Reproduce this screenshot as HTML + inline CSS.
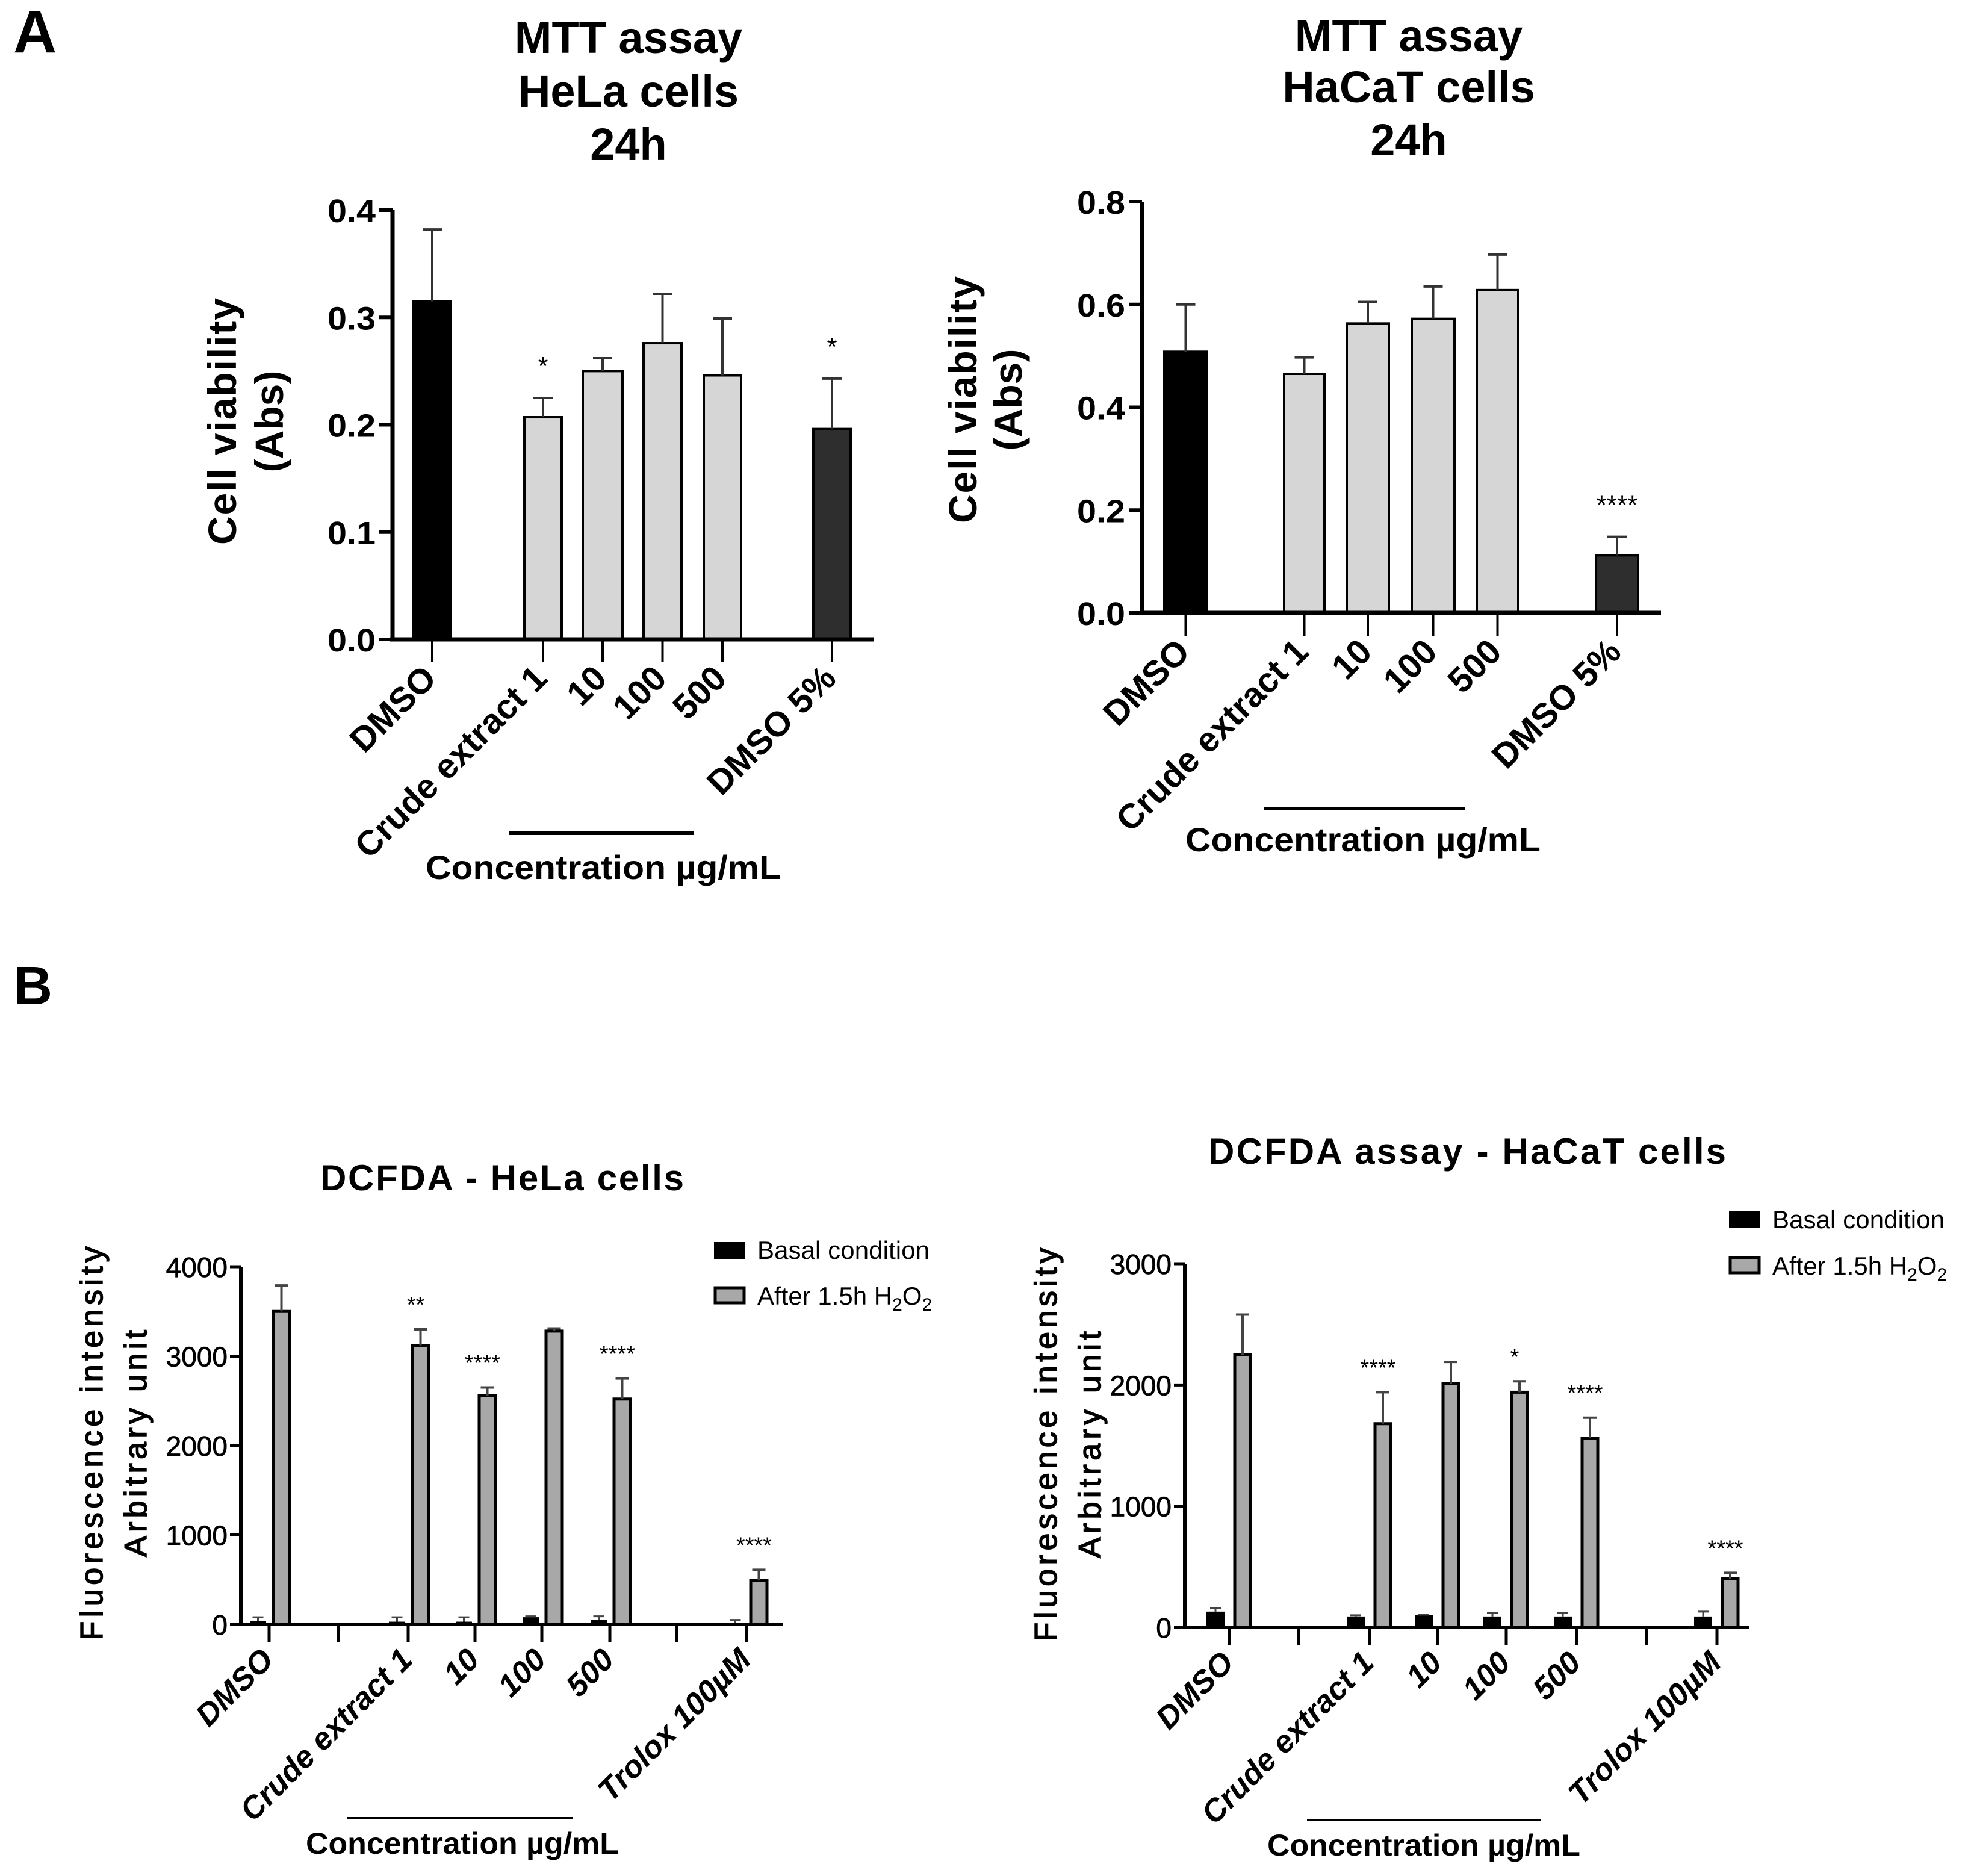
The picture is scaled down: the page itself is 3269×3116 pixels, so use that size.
<!DOCTYPE html>
<html><head><meta charset="utf-8"><style>
html,body{margin:0;padding:0;background:#fff}
svg{display:block}
text{font-family:"Liberation Sans",sans-serif}
</style></head><body>
<svg id="fig" width="3269" height="3116" viewBox="0 0 3269 3116" xmlns="http://www.w3.org/2000/svg">
<text x="22" y="87" font-size="100" font-weight="bold">A</text>
<text x="22" y="1668" font-size="90" font-weight="bold">B</text>
<g font-weight="bold" font-size="74" text-anchor="middle">
<text x="1044" y="88">MTT assay</text><text x="1044" y="177">HeLa cells</text><text x="1044" y="265">24h</text></g>
<g font-weight="bold" font-size="74" text-anchor="middle">
<text x="2340" y="85">MTT assay</text><text x="2340" y="170">HaCaT cells</text><text x="2340" y="258">24h</text></g>
<text x="834" y="1977" font-size="60" font-weight="bold" text-anchor="middle" textLength="604">DCFDA - HeLa cells</text>
<text x="2437" y="1933" font-size="60" font-weight="bold" text-anchor="middle" textLength="860">DCFDA assay - HaCaT cells</text>
<g id="root"></g>
</svg>
<script>
// ---- Chart A1: MTT HeLa ----
const a1Cats = ["DMSO","Crude extract 1","10","100","500","DMSO 5%"];
const a1Vals = [0.315,0.207,0.250,0.276,0.246,0.196];
const a1Errs = [0.382,0.225,0.262,0.322,0.299,0.243];
const a1Sig = ["","*","","","","*"];
const a1Ticks = [0.0,0.1,0.2,0.3,0.4];
const a1TickLabels = ["0.0","0.1","0.2","0.3","0.4"];
// ---- Chart A2: MTT HaCaT ----
const a2Cats = ["DMSO","Crude extract 1","10","100","500","DMSO 5%"];
const a2Vals = [0.508,0.465,0.563,0.572,0.628,0.112];
const a2Errs = [0.600,0.497,0.605,0.635,0.697,0.148];
const a2Sig = ["","","","","","****"];
const a2Ticks = [0.0,0.2,0.4,0.6,0.8];
const a2TickLabels = ["0.0","0.2","0.4","0.6","0.8"];
// ---- Chart B1: DCFDA HeLa ----
const b1Cats = ["DMSO","Crude extract 1","10","100","500","Trolox 100µM"];
const b1Basal = [40,30,30,80,50,0];
const b1BasalErr = [80,80,80,90,90,50];
const b1H2O2 = [3500,3120,2560,3280,2520,490];
const b1H2O2Err = [3790,3300,2650,3310,2750,610];
const b1Sig = ["","**","****","","****","****"];
const b1Ticks = [0,1000,2000,3000,4000];
const b1TickLabels = ["0","1000","2000","3000","4000"];
// ---- Chart B2: DCFDA HaCaT ----
const b2Cats = ["DMSO","Crude extract 1","10","100","500","Trolox 100µM"];
const b2Basal = [130,90,100,90,90,90];
const b2BasalErr = [160,100,105,120,120,130];
const b2H2O2 = [2250,1680,2010,1940,1560,400];
const b2H2O2Err = [2580,1940,2190,2030,1730,450];
const b2Sig = ["","****","","*","****","****"];
const b2Ticks = [0,1000,2000,3000];
const b2TickLabels = ["0","1000","2000","3000"];

const NS="http://www.w3.org/2000/svg";
const root=document.getElementById('root');
function mk(tag,attrs,parent,txt){const e=document.createElementNS(NS,tag);for(const k in attrs)e.setAttribute(k,attrs[k]);if(txt!==undefined)e.textContent=txt;(parent||root).appendChild(e);return e;}

function yScale(y0px,y1px,vmax){return v=>y0px-(v/vmax)*(y0px-y1px);}

// ---------- Panel A charts ----------
function drawA(cfg){
  const g=mk('g',{});
  
  
  const ys=yScale(cfg.y0,cfg.ytop,cfg.vmax);
  cfg.vals.forEach((v,i)=>{
    const [l,r]=cfg.bars[i];
    const cx=(l+r)/2;
    const bar=mk('rect',{x:l,y:ys(v),width:r-l,height:ys(0)-ys(v),fill:cfg.fills[i],stroke:'#000','stroke-width':4},g);
    
    
    const eb=mk('path',{d:`M${cx} ${ys(v)}V${ys(cfg.errs[i])}M${cx-16} ${ys(cfg.errs[i])}H${cx+16}`,stroke:'#333','stroke-width':4,fill:'none'},g);
    
    
    if(cfg.sig[i]){
      const s=mk('text',{x:cx,y:ys(cfg.errs[i])-38,'font-size':44,'text-anchor':'middle'},g,cfg.sig[i]);
      
      
    }
    mk('line',{x1:cx,y1:cfg.y0,x2:cx,y2:cfg.y0+38,stroke:'#000','stroke-width':4},g);
    const lb=mk('text',{x:cx+10,y:cfg.y0+68,'font-size':58,'font-weight':'bold','text-anchor':'end',transform:`rotate(-45 ${cx+10} ${cfg.y0+68})`},g,cfg.cats[i]);
    
    
  });
  const ax=mk('path',{d:`M${cfg.x0} ${cfg.ytop}V${cfg.y0}M${cfg.x0-4} ${cfg.y0}H${cfg.xend}`,stroke:'#000','stroke-width':7,fill:'none'},g);
  
  
  cfg.ticks.forEach((t,i)=>{
    mk('line',{x1:cfg.x0-22,y1:ys(t),x2:cfg.x0,y2:ys(t),stroke:'#000','stroke-width':6},g);
    const tl=mk('text',{x:cfg.x0-28,y:ys(t)+20,'font-size':54,'font-weight':'bold','text-anchor':'end',textLength:80,lengthAdjust:'spacingAndGlyphs'},g,cfg.tickLabels[i]);
    
    
  });
  const yt=mk('g',{'font-size':66,'font-weight':'bold','text-anchor':'middle'},g);
  
  
  mk('text',{x:cfg.yt1[0],y:cfg.yt1[1],transform:`rotate(-90 ${cfg.yt1[0]} ${cfg.yt1[1]})`,textLength:410},yt,'Cell viability');
  mk('text',{x:cfg.yt2[0],y:cfg.yt2[1],transform:`rotate(-90 ${cfg.yt2[0]} ${cfg.yt2[1]})`},yt,'(Abs)');
  const ul=mk('line',{x1:cfg.ul[0],y1:cfg.ul[2],x2:cfg.ul[1],y2:cfg.ul[2],stroke:'#000','stroke-width':6},g);
  
  
  const ct=mk('text',{x:cfg.ct[0],y:cfg.ct[1],'font-size':56,'font-weight':'bold','text-anchor':'middle',textLength:590,lengthAdjust:'spacingAndGlyphs'},g,'Concentration µg/mL');
  
  
}

drawA({name:'hela-mtt-chart',cats:a1Cats,vals:a1Vals,errs:a1Errs,sig:a1Sig,ticks:a1Ticks,tickLabels:a1TickLabels,
  x0:652,xend:1452,y0:1062,ytop:349,vmax:0.4,
  bars:[[687,749],[871,933],[968,1034],[1069,1132],[1169,1231],[1351,1413]],
  fills:['#000','#d6d6d6','#d6d6d6','#d6d6d6','#d6d6d6','#2e2e2e'],
  yt1:[392,700],yt2:[470,700],ul:[846,1153,1384],ct:[1002,1460]});
drawA({name:'hacat-mtt-chart',cats:a2Cats,vals:a2Vals,errs:a2Errs,sig:a2Sig,ticks:a2Ticks,tickLabels:a2TickLabels,
  x0:1897,xend:2759,y0:1018,ytop:335,vmax:0.8,
  bars:[[1934,2005],[2133,2200],[2237,2307],[2345,2416],[2453,2522],[2651,2721]],
  fills:['#000','#d6d6d6','#d6d6d6','#d6d6d6','#d6d6d6','#2e2e2e'],
  yt1:[1622,664],yt2:[1697,664],ul:[2100,2433,1343],ct:[2264,1414]});

// ---------- Panel B charts ----------
function drawB(cfg){
  const g=mk('g',{});
  
  
  const ys=yScale(cfg.y0,cfg.ytop,cfg.vmax);
  cfg.cats.forEach((c,i)=>{
    const t=cfg.tickX[i];
    const slug=c.toLowerCase().replace(/[^a-z0-9]+/g,'-');
    const bl=t+cfg.bOff[0], br=t+cfg.bOff[1];
    const bb=mk('rect',{x:bl,y:ys(cfg.basal[i]),width:br-bl,height:ys(0)-ys(cfg.basal[i]),fill:'#000'},g);
    
    
    const bcx=(bl+br)/2;
    mk('path',{d:`M${bcx} ${ys(cfg.basal[i])}V${ys(cfg.basalErr[i])}M${bcx-9} ${ys(cfg.basalErr[i])}H${bcx+9}`,stroke:'#444','stroke-width':3,fill:'none'},g);
    const gl=t+cfg.gOff[0], gr=t+cfg.gOff[1];
    const gb=mk('rect',{x:gl,y:ys(cfg.h2o2[i]),width:gr-gl,height:ys(0)-ys(cfg.h2o2[i]),fill:'#a8a8a8',stroke:'#000','stroke-width':5},g);
    
    
    const gcx=(gl+gr)/2;
    const eb=mk('path',{d:`M${gcx} ${ys(cfg.h2o2[i])}V${ys(cfg.h2o2Err[i])}M${gcx-11} ${ys(cfg.h2o2Err[i])}H${gcx+11}`,stroke:'#444','stroke-width':4,fill:'none'},g);
    
    
    if(cfg.sig[i]){
      const s=mk('text',{x:gcx-8,y:ys(cfg.h2o2Err[i])-28,'font-size':38,'text-anchor':'middle'},g,cfg.sig[i]);
      
      
    }
    mk('line',{x1:t,y1:cfg.y0,x2:t,y2:cfg.y0+30,stroke:'#000','stroke-width':5},g);
    const lb=mk('text',{x:t+10,y:cfg.y0+62,'font-size':52,'font-weight':'bold','font-style':'italic','text-anchor':'end',transform:`rotate(-45 ${t+10} ${cfg.y0+62})`},g,c);
    
    
  });
  cfg.sepX.forEach(s=>mk('line',{x1:s,y1:cfg.y0,x2:s,y2:cfg.y0+30,stroke:'#000','stroke-width':5},g));
  const ax=mk('path',{d:`M${cfg.x0} ${cfg.ytop}V${cfg.y0}M${cfg.x0-3} ${cfg.y0}H${cfg.xend}`,stroke:'#000','stroke-width':6,fill:'none'},g);
  
  
  cfg.ticks.forEach((t,i)=>{
    mk('line',{x1:cfg.x0-18,y1:ys(t),x2:cfg.x0,y2:ys(t),stroke:'#000','stroke-width':5},g);
    const tl=mk('text',{x:cfg.x0-22,y:ys(t)+17,'font-size':46,'text-anchor':'end',stroke:'#000','stroke-width':0.8},g,cfg.tickLabels[i]);
    
    
  });
  const yt=mk('g',{'font-size':52,'text-anchor':'middle','letter-spacing':'3',stroke:'#000','stroke-width':1.5},g);
  
  
  mk('text',{x:cfg.yt1[0],y:cfg.yt1[1],transform:`rotate(-90 ${cfg.yt1[0]} ${cfg.yt1[1]})`,textLength:657},yt,'Fluorescence intensity');
  mk('text',{x:cfg.yt2[0],y:cfg.yt2[1],transform:`rotate(-90 ${cfg.yt2[0]} ${cfg.yt2[1]})`,textLength:380},yt,'Arbitrary unit');
  const lg=mk('g',{},g);
  
  
  const L=cfg.legend;
  const e1=mk('g',{},lg);
  
  
  mk('rect',{x:L[0],y:L[1],width:52,height:28,fill:'#000'},e1);
  mk('text',{x:L[0]+72,y:L[1]+28,'font-size':42,textLength:286},e1,'Basal condition');
  const e2=mk('g',{},lg);
  
  
  mk('rect',{x:L[0]+2,y:L[2]+2,width:48,height:25,fill:'#a8a8a8',stroke:'#000','stroke-width':5},e2);
  const t2=mk('text',{x:L[0]+72,y:L[2]+30,'font-size':42},e2);
  mk('tspan',{},t2,'After 1.5h H');
  mk('tspan',{'font-size':30,dy:10},t2,'2');
  mk('tspan',{dy:-10},t2,'O');
  mk('tspan',{'font-size':30,dy:10},t2,'2');
  const ul=mk('line',{x1:cfg.ul[0],y1:cfg.ul[2],x2:cfg.ul[1],y2:cfg.ul[2],stroke:'#000','stroke-width':4},g);
  
  
  const ct=mk('text',{x:cfg.ct[0],y:cfg.ct[1],'font-size':50,'font-weight':'bold','text-anchor':'middle',textLength:520,lengthAdjust:'spacingAndGlyphs'},g,'Concentration µg/mL');
  
  
}

drawB({name:'hela-dcfda-chart',cats:b1Cats,basal:b1Basal,basalErr:b1BasalErr,h2o2:b1H2O2,h2o2Err:b1H2O2Err,sig:b1Sig,
  ticks:b1Ticks,tickLabels:b1TickLabels,x0:400,xend:1300,y0:2698,ytop:2104,vmax:4000,
  tickX:[447,678,789,900,1013,1240],sepX:[562,1124],bOff:[-32,-5],gOff:[7,34],
  yt1:[170,2396],yt2:[243,2396],legend:[1186,2063,2137],ul:[577,952,3020],ct:[768,3079]});
drawB({name:'hacat-dcfda-chart',cats:b2Cats,basal:b2Basal,basalErr:b2BasalErr,h2o2:b2H2O2,h2o2Err:b2H2O2Err,sig:b2Sig,
  ticks:b2Ticks,tickLabels:b2TickLabels,x0:1968,xend:2906,y0:2703,ytop:2099,vmax:3000,
  tickX:[2042,2275,2388,2502,2619,2852],sepX:[2157,2735],bOff:[-38,-8],gOff:[9,35],
  yt1:[1755,2398],yt2:[1828,2398],legend:[2872,2012,2087],ul:[2171,2560,3023],ct:[2365,3082]});
</script>
</body></html>
